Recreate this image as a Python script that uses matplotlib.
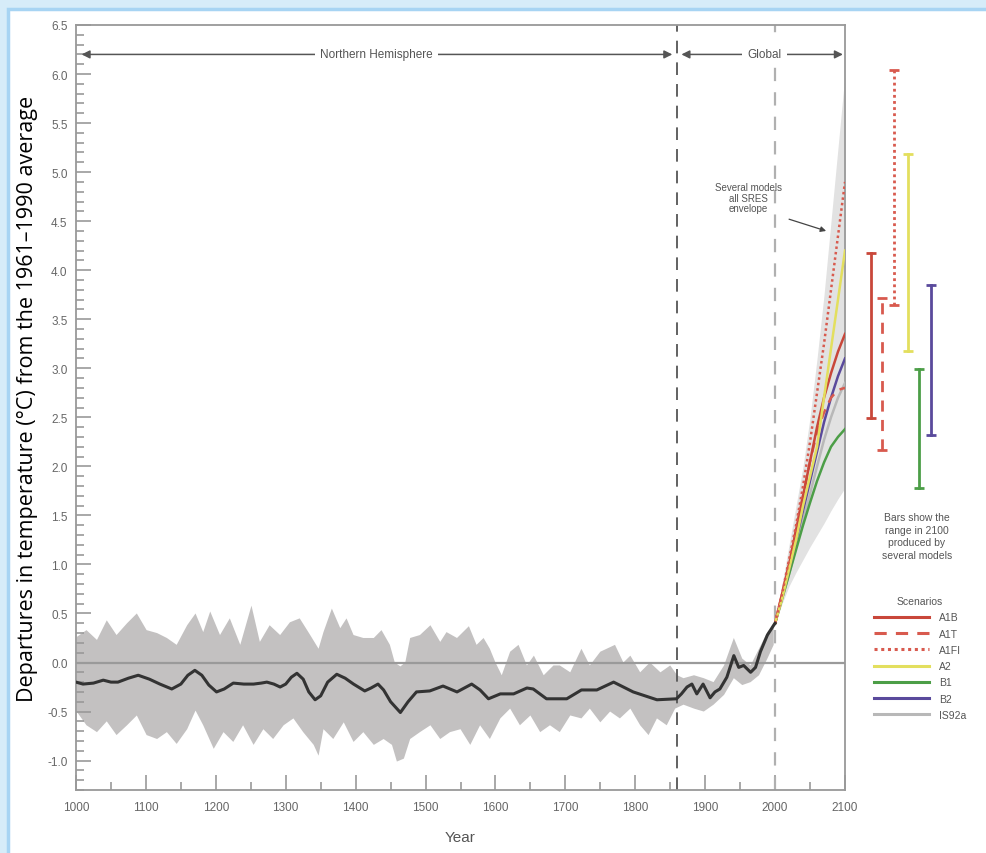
import numpy as np
import matplotlib.pyplot as plt
from matplotlib.patches import Rectangle
from matplotlib.ticker import MultipleLocator, FormatStrFormatter
from matplotlib.lines import Line2D

plt.rcParams['font.family'] = ['Liberation Sans', 'DejaVu Sans']
plt.rcParams['axes.unicode_minus'] = False

# smoothed NH reconstruction (1000-1860) + instrumental global record (1860-2000)
hist_years = [1000, 1010, 1025, 1039, 1050, 1060, 1075, 1089, 1105, 1120, 1137, 1150, 1160, 1170,
              1180, 1190, 1201, 1212, 1225, 1240, 1254, 1265, 1273, 1283, 1292, 1300, 1308, 1316,
              1325, 1333, 1342, 1350, 1360, 1373, 1385, 1397, 1413, 1422, 1432, 1440, 1450, 1464,
              1475, 1487, 1506, 1525, 1545, 1566, 1578, 1590, 1607, 1626, 1645, 1654, 1673, 1702,
              1723, 1745, 1769, 1797, 1831, 1859, 1866, 1874, 1881, 1888, 1897, 1907, 1914, 1921,
              1931, 1941, 1948, 1955, 1965, 1972, 1979, 1989, 1998, 2000]
hist_temp = [-0.20, -0.22, -0.21, -0.18, -0.20, -0.20, -0.16, -0.13, -0.17, -0.22, -0.27, -0.22,
             -0.13, -0.08, -0.13, -0.23, -0.30, -0.27, -0.21, -0.22, -0.22, -0.21, -0.20, -0.22,
             -0.25, -0.22, -0.15, -0.11, -0.17, -0.30, -0.38, -0.34, -0.20, -0.12, -0.16, -0.22,
             -0.29, -0.26, -0.22, -0.28, -0.40, -0.51, -0.40, -0.30, -0.29, -0.24, -0.30, -0.22,
             -0.28, -0.37, -0.32, -0.32, -0.26, -0.27, -0.37, -0.37, -0.28, -0.28, -0.20, -0.30,
             -0.38, -0.37, -0.32, -0.25, -0.22, -0.32, -0.22, -0.36, -0.30, -0.27, -0.15, 0.07,
             -0.05, -0.03, -0.10, -0.05, 0.11, 0.28, 0.38, 0.40]

# uncertainty band (upper / lower edge)
up_years = [1001, 1015, 1030, 1044, 1058, 1073, 1087, 1101, 1116, 1130, 1144, 1159, 1171, 1182,
            1192, 1206, 1220, 1235, 1251, 1263, 1277, 1292, 1306, 1320, 1335, 1347, 1354, 1366,
            1378, 1387, 1397, 1411, 1426, 1437, 1449, 1456, 1464, 1471, 1478, 1492, 1507, 1521,
            1530, 1545, 1562, 1573, 1583, 1592, 1600, 1609, 1621, 1633, 1645, 1655, 1669, 1683,
            1692, 1707, 1723, 1735, 1750, 1771, 1783, 1793, 1807, 1821, 1836, 1850, 1860, 1869,
            1884, 1898, 1912, 1927, 1941, 1953, 1965, 1977, 1989, 1998]
up_temp = [0.26, 0.33, 0.23, 0.43, 0.28, 0.40, 0.50, 0.33, 0.30, 0.25, 0.18, 0.38, 0.50, 0.31,
           0.52, 0.28, 0.45, 0.18, 0.58, 0.21, 0.38, 0.28, 0.41, 0.45, 0.28, 0.14, 0.31, 0.55,
           0.35, 0.45, 0.28, 0.25, 0.25, 0.33, 0.18, 0.00, -0.04, 0.00, 0.25, 0.28, 0.38, 0.21,
           0.31, 0.25, 0.37, 0.18, 0.25, 0.14, 0.00, -0.13, 0.11, 0.18, -0.03, 0.07, -0.13, -0.03,
           -0.03, -0.10, 0.14, -0.03, 0.11, 0.18, 0.00, 0.07, -0.10, 0.00, -0.10, -0.03, -0.13,
           -0.16, -0.13, -0.16, -0.20, -0.03, 0.25, 0.04, -0.03, 0.14, 0.31, 0.38]
lo_years = [1001, 1015, 1030, 1044, 1058, 1073, 1087, 1101, 1116, 1130, 1144, 1159, 1171, 1182,
            1197, 1211, 1225, 1239, 1254, 1268, 1282, 1297, 1311, 1325, 1340, 1347, 1354, 1368,
            1383, 1397, 1411, 1426, 1440, 1452, 1459, 1469, 1478, 1492, 1507, 1521, 1535, 1550,
            1564, 1578, 1592, 1607, 1621, 1635, 1650, 1664, 1678, 1692, 1707, 1723, 1735, 1750,
            1764, 1778, 1793, 1807, 1819, 1831, 1845, 1857, 1869, 1884, 1898, 1912, 1927, 1941,
            1953, 1965, 1977, 1989, 1998]
lo_temp = [-0.50, -0.64, -0.71, -0.60, -0.74, -0.64, -0.54, -0.74, -0.78, -0.71, -0.83, -0.68,
           -0.49, -0.64, -0.88, -0.71, -0.81, -0.64, -0.84, -0.68, -0.78, -0.64, -0.57, -0.71,
           -0.84, -0.95, -0.68, -0.78, -0.61, -0.81, -0.71, -0.84, -0.78, -0.84, -1.01, -0.98,
           -0.78, -0.71, -0.64, -0.78, -0.71, -0.68, -0.84, -0.64, -0.78, -0.57, -0.47, -0.64,
           -0.54, -0.71, -0.64, -0.71, -0.54, -0.57, -0.47, -0.61, -0.50, -0.57, -0.47, -0.64,
           -0.74, -0.57, -0.64, -0.47, -0.43, -0.47, -0.50, -0.43, -0.33, -0.16, -0.23, -0.20,
           -0.13, 0.04, 0.18]

# projections 2000-2100
proj_years = [2000, 2010, 2020, 2030, 2040, 2050, 2060, 2070, 2080, 2090, 2100]
a1b = [0.4, 0.70, 1.00, 1.35, 1.70, 2.05, 2.40, 2.70, 2.95, 3.17, 3.35]
a1t = [0.4, 0.70, 1.00, 1.35, 1.70, 2.05, 2.35, 2.55, 2.70, 2.78, 2.80]
a1fi = [0.4, 0.70, 1.05, 1.40, 1.80, 2.25, 2.75, 3.25, 3.80, 4.35, 4.90]
a2 = [0.4, 0.65, 0.95, 1.25, 1.60, 1.90, 2.20, 2.70, 3.20, 3.70, 4.20]
b1 = [0.4, 0.65, 0.90, 1.15, 1.40, 1.63, 1.85, 2.04, 2.20, 2.30, 2.38]
b2 = [0.4, 0.67, 0.95, 1.25, 1.55, 1.85, 2.15, 2.45, 2.70, 2.92, 3.10]
is92a = [0.4, 0.65, 0.90, 1.18, 1.45, 1.72, 2.00, 2.27, 2.50, 2.70, 2.85]
env_lo = [0.4, 0.60, 0.78, 0.92, 1.05, 1.18, 1.30, 1.42, 1.55, 1.67, 1.78]
env_hi = [0.4, 0.80, 1.20, 1.60, 2.00, 2.50, 3.10, 3.75, 4.50, 5.25, 6.00]

# model ranges in 2100
bar_names = ['A1B', 'A1T', 'A1FI', 'A2', 'B1', 'B2']
bar_lo = [2.49, 2.17, 3.65, 3.18, 1.78, 2.32]
bar_hi = [4.18, 3.72, 6.04, 5.18, 2.99, 3.85]

c_red = '#c9473a'
c_red2 = '#d85a4e'
c_yel = '#e3df5e'
c_grn = '#4c9e47'
c_pur = '#5a4a9c'
c_gry = '#b8b8b8'
styles = {
    'A1B': dict(color=c_red, ls='-'),
    'A1T': dict(color=c_red2, ls=(0, (4, 3))),
    'A1FI': dict(color=c_red2, ls=(0, (1, 1.2))),
    'A2': dict(color=c_yel, ls='-'),
    'B1': dict(color=c_grn, ls='-'),
    'B2': dict(color=c_pur, ls='-'),
    'IS92a': dict(color=c_gry, ls='-'),
}
bar_x = [2137, 2153, 2170, 2190, 2206, 2223]

fig = plt.figure(figsize=(9.87, 8.54), dpi=100)
fig.patch.set_facecolor('#d6ecf9')
fig.patches.append(Rectangle((8 / 987, -0.1), 1.2, 1.1 - 10 / 854, transform=fig.transFigure,
                             fc='white', ec='#a7d4f3', lw=2.5, zorder=-10))

ax = fig.add_axes([76 / 987, 63 / 854, 769 / 987, 765 / 854])
ax.set_zorder(1)
ax.set_facecolor('none')

# history
ax.fill(np.r_[up_years, lo_years[::-1]], np.r_[up_temp, lo_temp[::-1]],
        color='#c3c1c1', lw=0, zorder=1)
ax.axhline(0, color='#9a9a9a', lw=1.6, zorder=2)
ax.plot(hist_years, hist_temp, color='#333333', lw=2.2, zorder=4, solid_joinstyle='round')

# projections
ax.fill_between(proj_years, env_lo, env_hi, color='#e2e2e2', lw=0, zorder=1)
proj = {'IS92a': is92a, 'B1': b1, 'B2': b2, 'A1T': a1t, 'A1B': a1b, 'A2': a2, 'A1FI': a1fi}
for k, v in proj.items():
    ax.plot(proj_years, v, lw=1.8, zorder=3, **styles[k])

# period separators
ax.axvline(1860, color='#555555', lw=1.3, ls=(0, (7, 5)), zorder=2)
ax.axvline(2000, color='#b0b0b0', lw=1.6, ls=(0, (6, 5)), zorder=2)

# range bars outside the frame
for x, n, lo, hi in zip(bar_x, bar_names, bar_lo, bar_hi):
    st = styles[n]
    ax.plot([x, x], [lo, hi], color=st['color'], ls=st['ls'], lw=2, clip_on=False)
    ax.plot([x, x], [lo, hi], color=st['color'], marker='_', ms=7, mew=2, ls='none', clip_on=False)

# top arrows
arr = dict(arrowstyle='-|>', color='#555555', lw=1.1, mutation_scale=12, shrinkA=0, shrinkB=0)
ax.annotate('', xy=(1008, 6.2), xytext=(1430, 6.2), arrowprops=arr)
ax.annotate('', xy=(1853, 6.2), xytext=(1430, 6.2), arrowprops=arr)
ax.text(1430, 6.2, 'Northern Hemisphere', ha='center', va='center', fontsize=8.5, color='#555555',
        bbox=dict(fc='white', ec='none', pad=4))
ax.annotate('', xy=(1866, 6.2), xytext=(1985, 6.2), arrowprops=arr)
ax.annotate('', xy=(2097, 6.2), xytext=(1985, 6.2), arrowprops=arr)
ax.text(1985, 6.2, 'Global', ha='center', va='center', fontsize=8.5, color='#555555',
        bbox=dict(fc='white', ec='none', pad=4))

ax.text(1962, 4.74, 'Several models\nall SRES\nenvelope', ha='center', va='center',
        fontsize=7, color='#555555', linespacing=1.1)
ax.annotate('', xy=(2073, 4.4), xytext=(2020, 4.52),
            arrowprops=dict(arrowstyle='-|>', color='#444444', lw=0.9, mutation_scale=8,
                            shrinkA=0, shrinkB=0))

# axes styling
ax.set_xlim(1000, 2100)
ax.set_ylim(-1.3, 6.5)
ax.xaxis.set_major_locator(MultipleLocator(100))
ax.xaxis.set_minor_locator(MultipleLocator(50))
ax.yaxis.set_major_locator(MultipleLocator(0.5))
ax.yaxis.set_minor_locator(MultipleLocator(0.1))
ax.yaxis.set_major_formatter(FormatStrFormatter('%.1f'))
ax.tick_params(which='both', direction='in', colors='#999999', labelcolor='#666666',
               labelsize=8.5, width=1.2)
ax.tick_params(which='major', length=11)
ax.tick_params(which='minor', length=6)
ax.tick_params(axis='x', pad=8)
ax.tick_params(axis='y', pad=6)
for s in ax.spines.values():
    s.set_color('#999999')
    s.set_linewidth(1.3)

ax.set_xlabel('Year', fontsize=11, color='#555555', labelpad=12)
ax.set_ylabel('Departures in temperature (°C) from the 1961–1990 average',
              fontsize=15.5, family=['Open Sans', 'DejaVu Sans'], color='black')
ax.yaxis.set_label_coords(-38 / 769, 0.513)

fig.text(917 / 987, 1 - 537 / 854, 'Bars show the\nrange in 2100\nproduced by\nseveral models',
         ha='center', va='center', fontsize=7.5, color='#555555', linespacing=1.3)

names = ['A1B', 'A1T', 'A1FI', 'A2', 'B1', 'B2', 'IS92a']
handles = [Line2D([], [], lw=2.2, **styles[n]) for n in names]
leg = fig.legend(handles, names, title='Scenarios',
                 loc='upper left', bbox_to_anchor=(869 / 987, 1 - 592 / 854), frameon=False,
                 fontsize=7.5, title_fontsize=7.5, handlelength=5.3, handletextpad=0.9,
                 labelspacing=0.6, borderpad=0)
for t in leg.get_texts():
    t.set_color('#555555')
leg.get_title().set_color('#555555')

fig.savefig('out.png', dpi=100, facecolor=fig.get_facecolor())
